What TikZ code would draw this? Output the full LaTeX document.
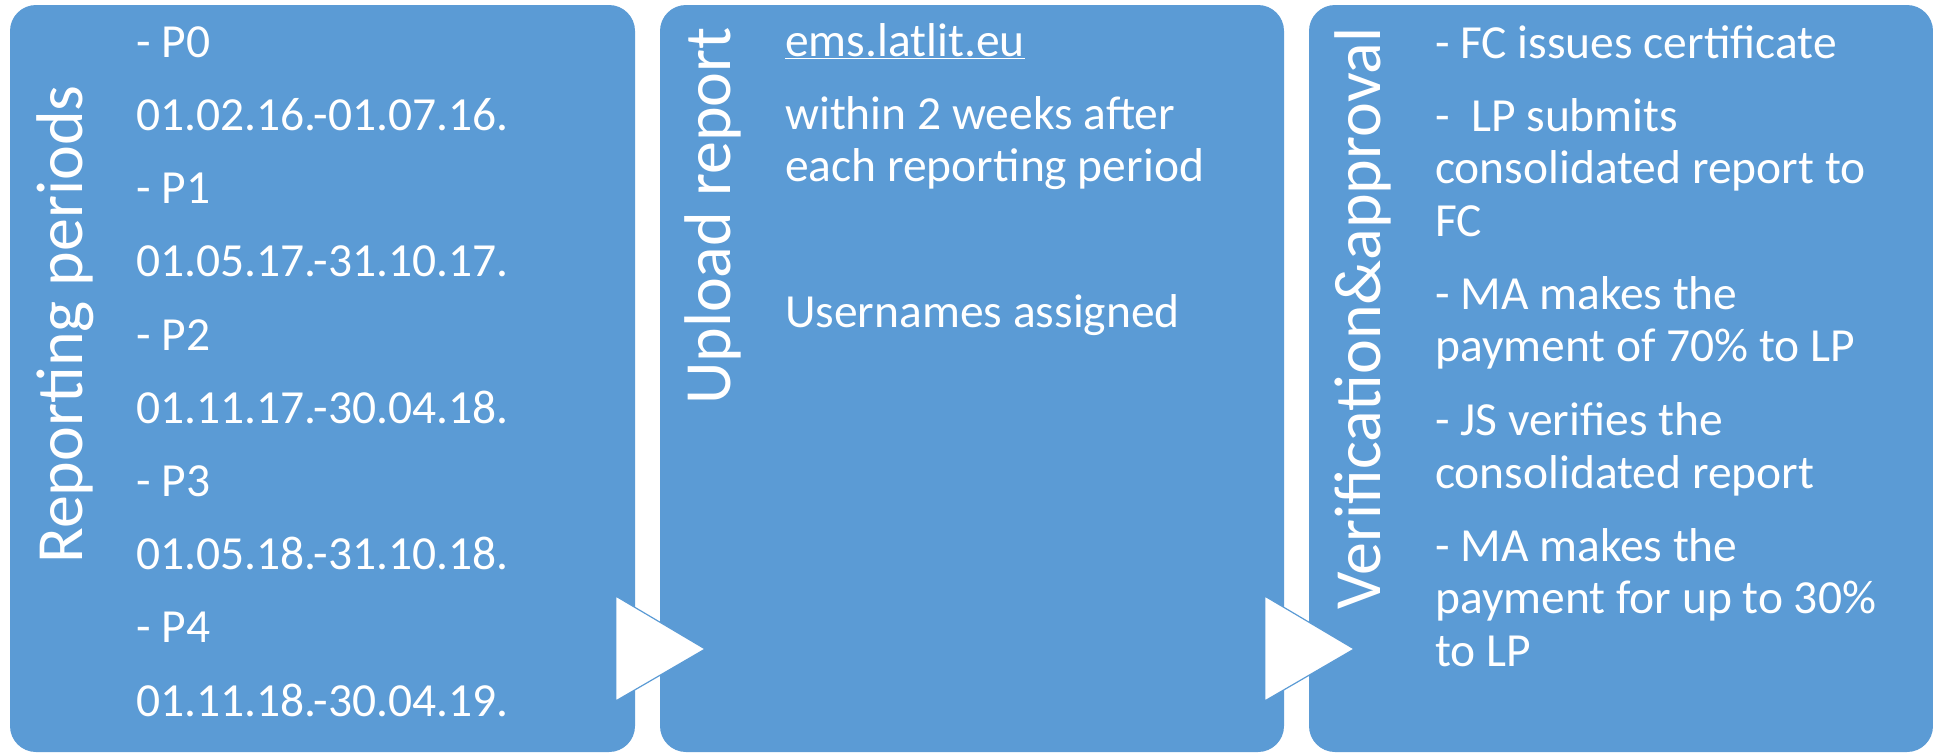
\documentclass[tikz,border=0pt]{standalone}
\usepackage{fontspec}
\setmainfont{Carlito}
\usetikzlibrary{calc}
\definecolor{boxblue}{HTML}{5B9BD5}
\tikzset{
  stepcard/.style={rectangle, fill=boxblue, rounded corners=26pt, minimum width=624pt, minimum height=747pt, inner sep=0pt},
  cardtitle/.style={rotate=90, anchor=base east, inner sep=0pt, text=white, font=\fontsize{66}{70}\selectfont},
  cardtext/.style={anchor=base west, align=left, inner sep=0pt, text=white, font=\fontsize{47.5}{52.5}\selectfont},
  chev/.style={fill=white, draw=boxblue, line width=1.2pt, line join=miter}
}
\begin{document}
\begin{tikzpicture}[x=1pt,y=-1pt]
  \useasboundingbox (0,0) rectangle (1933,753);
  %% cards
  \node[stepcard, minimum width=625pt] (repcard) at (322.5,378.5) {};
  \node[stepcard] (uplcard) at (972,378.5) {};
  \node[stepcard] (vercard) at (1621,378.5) {};
  %% arrows between cards
  \foreach \a in {repcard,uplcard} {
    \draw[chev] ($(\a.east)+(-19.5,217.5)$) -- ($(\a.east)+(70,270.5)$) -- ($(\a.east)+(-19.5,322.5)$) -- cycle;
  }
  %% titles
  \node[cardtitle] (reptitle) at (82,85) {Reporting periods};
  \node[cardtitle] (upltitle) at (730,27) {Upload report};
  \node[cardtitle] (vertitle) at (1380,27) {Verification\&approval};
  %% texts (placed by the baseline of their last line)
  \node[cardtext] (reptext) at (136,716) {- P0\\[20.7pt]
    01.02.16.-01.07.16.\\[20.7pt]
    - P1\\[20.7pt]
    01.05.17.-31.10.17.\\[20.7pt]
    - P2\\[20.7pt]
    01.11.17.-30.04.18.\\[20.7pt]
    - P3\\[20.7pt]
    01.05.18.-31.10.18.\\[20.7pt]
    - P4\\[20.7pt]
    01.11.18.-30.04.19.};
  \node[cardtext] (upltext) at (785,327.5) {\underline{ems.latlit.eu}\\[20.5pt]
    within 2 weeks after\\
    each reporting period\\[20.5pt]
    \mbox{}\\[20.5pt]
    Usernames assigned};
  \node[cardtext] (vertext) at (1435,666) {- FC issues certificate\\[20.5pt]
    -\ \ LP submits\\
    consolidated report to\\
    FC\\[20.5pt]
    - MA makes the\\
    payment of 70\% to LP\\[21.5pt]
    - JS verifies the\\
    consolidated report\\[20.5pt]
    - MA makes the\\
    payment for up to 30\%\\
    to LP};
\end{tikzpicture}
\end{document}
